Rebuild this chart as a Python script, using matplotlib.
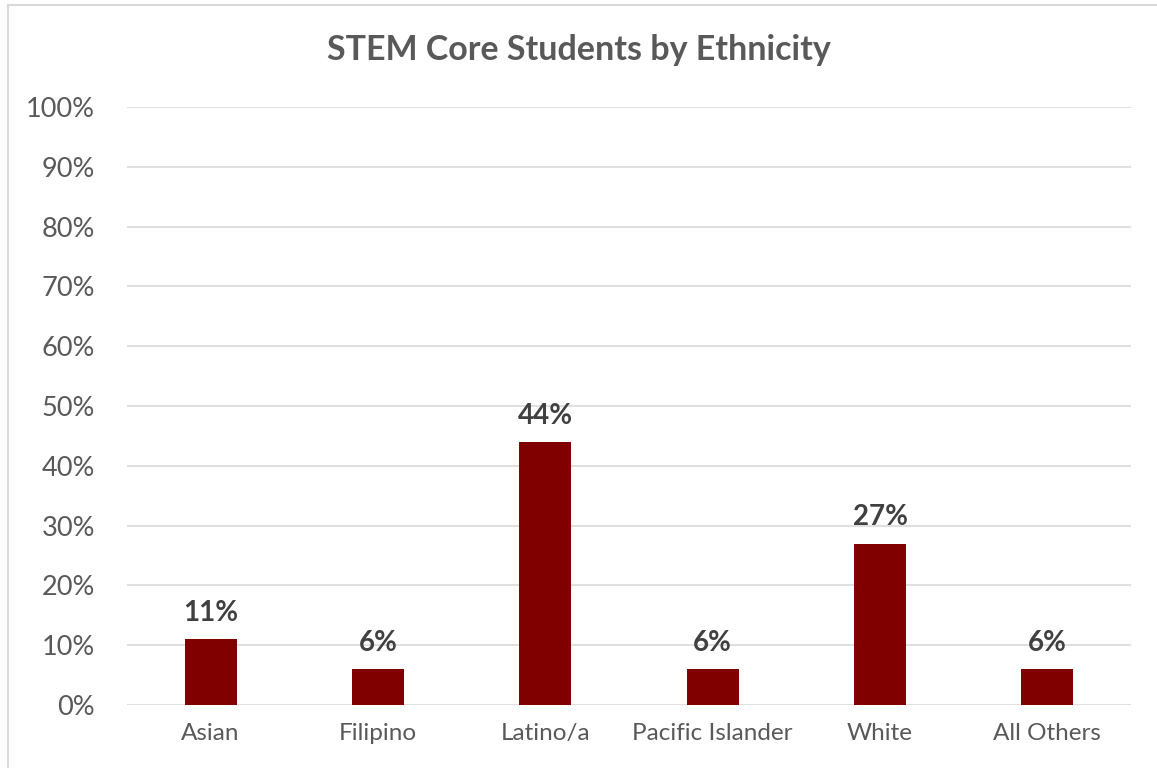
import matplotlib
matplotlib.use("Agg")
import matplotlib.pyplot as plt
from matplotlib.patches import Rectangle

categories = ["Asian", "Filipino", "Latino/a", "Pacific Islander", "White", "All Others"]
values = [11, 6, 44, 6, 27, 6]
yticks = [0, 10, 20, 30, 40, 50, 60, 70, 80, 90, 100]

plt.rcParams['font.family'] = ['Lato', 'DejaVu Sans']
TXT = '#595959'

fig = plt.figure(figsize=(11.57, 7.68), dpi=100)
# chart frame
fig.patches.append(Rectangle((8/1157, -0.1), 1.2, (768-5)/768 + 0.1, transform=fig.transFigure,
                             fill=False, edgecolor='#d9d9d9', linewidth=1.5))

ax = fig.add_axes([127/1157, 63/768, 1004/1157, 598/768])
x = range(len(categories))
ax.bar(x, values, width=0.31, color='#800000', zorder=3)
ax.set_xlim(-0.5, len(categories) - 0.5)
ax.set_ylim(0, 100)
ax.set_yticks(yticks)
ax.set_yticklabels([f"{v}%" for v in yticks], fontsize=19.5, color=TXT)
ax.set_xticks(list(x))
ax.set_xticklabels(categories, fontsize=17.5, color=TXT)
ax.tick_params(axis='both', length=0)
ax.tick_params(axis='y', pad=23)
ax.tick_params(axis='x', pad=13)
ax.grid(axis='y', color='#d9d9d9', linewidth=1.2, zorder=0)
for s in ax.spines.values():
    s.set_visible(False)
for i, v in enumerate(values):
    ax.text(i, v + 2.2, f"{v}%", ha='center', va='bottom', fontsize=20,
            fontweight='bold', color='#404040')

fig.text(0.5, (768-50)/768, "STEM Core Students by Ethnicity", ha='center', va='center',
         fontsize=24.5, fontweight='bold', color=TXT)

fig.savefig("out.png", dpi=100)
